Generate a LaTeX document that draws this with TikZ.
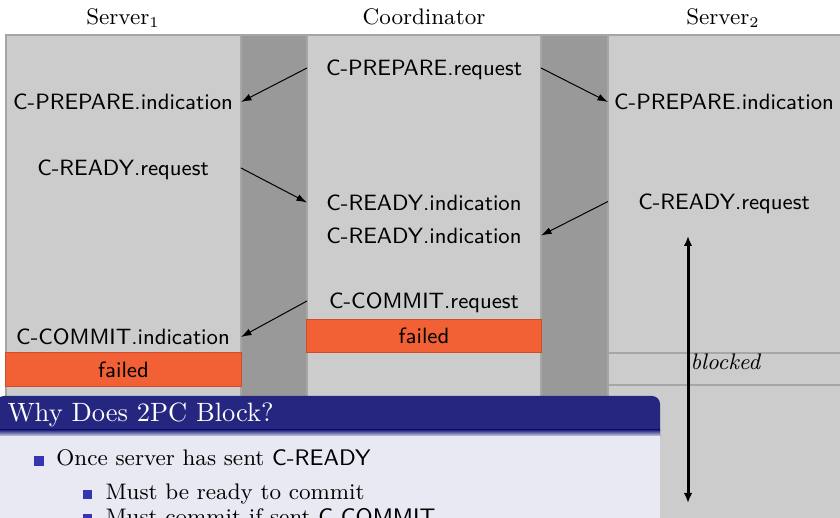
\documentclass[tikz,border=0pt]{standalone}
\usetikzlibrary{arrows.meta}
\definecolor{lane}{HTML}{CCCCCC}
\definecolor{lanegap}{HTML}{999999}
\definecolor{laneedge}{HTML}{A6A6A6}
\definecolor{failfill}{HTML}{F26035}
\definecolor{failedge}{HTML}{CF4E27}
\definecolor{blocktitle}{HTML}{25267F}
\definecolor{blockbody}{HTML}{E9E9F3}
\definecolor{itembullet}{HTML}{3535B0}

\begin{document}
\begin{tikzpicture}[x=0.4pt,y=-0.4pt,
  msgtext/.style={font=\sffamily\fontsize{8.85}{11}\selectfont, inner sep=0pt,
    text height=6.2pt, text depth=0pt},
  header/.style={font=\fontsize{9}{11}\selectfont, inner sep=0pt, anchor=base},
  failbar/.style={fill=failfill, draw=failedge, line width=0.4pt,
    minimum width=94pt, minimum height=13.4pt, inner sep=0pt,
    text height=6.2pt, text depth=0pt, font=\sffamily\fontsize{8.85}{11}\selectfont},
  lanebox/.style={fill=lane, draw=laneedge, line width=0.6pt},
  gapbox/.style={fill=lanegap, draw=laneedge, line width=0.6pt},
  msg/.style={-{Latex[length=4.2pt,width=2.8pt]}, line width=0.4pt},
  waitarrow/.style={{Latex[length=4pt,width=3.4pt]}-{Latex[length=4pt,width=3.4pt]}, line width=1.2pt},
  itemtext/.style={anchor=base west, inner sep=0pt, font=\fontsize{9}{11}\selectfont},
  bulletsq/.style={fill=itembullet, inner sep=0pt, minimum size=#1},
  bulletsq/.default=4pt
]
\useasboundingbox (0,0) rectangle (840,518);
\clip (0,0) rectangle (840,518);
\fill[white] (0,0) rectangle (840,518);

% lanes and the gaps between them
\path[lanebox] (6,35) rectangle (241,560);
\path[gapbox] (241,35) rectangle (307,560);
\path[lanebox] (307,35) rectangle (541,560);
\path[gapbox] (541,35) rectangle (608,560);
\path[lanebox] (608,35) rectangle (860,560);

\coordinate (s1E) at (241,0);
\coordinate (coW) at (307,0);
\coordinate (coE) at (541,0);
\coordinate (s2W) at (608,0);

% lane headers
\node[header] (h1) at (123,25) {Server$_1$};
\node[header] (h2) at (424,25) {Coordinator};
\node[header] (h3) at (723,25) {Server$_2$};

% Server 1
\node[msgtext] (s1pi) at (123,102) {C-PREPARE.indication};
\node[msgtext] (s1rr) at (123,168) {C-READY.request};
\node[msgtext] (s1ci) at (123,337) {C-COMMIT.indication};
\node[failbar] (s1f) at (123.5,369.3) {failed};

% Coordinator
\node[msgtext] (copr) at (424,68) {C-PREPARE.request};
\node[msgtext] (cori1) at (424,202.5) {C-READY.indication};
\node[msgtext] (cori2) at (424,235.5) {C-READY.indication};
\node[msgtext] (cocr) at (424,301) {C-COMMIT.request};
\node[failbar, minimum height=13.5pt] (cof) at (424,335.9) {failed};

% Server 2
\node[msgtext] (s2pi) at (724,102) {C-PREPARE.indication};
\node[msgtext] (s2rr) at (724,201.5) {C-READY.request};

% messages
\draw[msg] (copr -| coW) -- (s1pi -| s1E);
\draw[msg] (copr -| coE) -- (s2pi -| s2W);
\draw[msg] (s1rr -| s1E) -- (cori1 -| coW);
\draw[msg] (s2rr -| s2W) -- (cori2 -| coE);
\draw[msg] (cocr -| coW) -- (s1ci -| s1E);

% blocked interval of server 2
\coordinate (bandL1) at (608,353);
\coordinate (bandR1) at (860,353);
\coordinate (bandL2) at (608,385);
\coordinate (bandR2) at (860,385);
\draw[laneedge, line width=0.6pt] (bandL1) -- (bandR1);
\draw[laneedge, line width=0.6pt] (bandL2) -- (bandR2);
\node[anchor=base west, inner sep=0pt, font=\itshape\fontsize{9}{11}\selectfont] (blk) at (690,370) {blocked};
\coordinate (waitTop) at (688,236);
\coordinate (waitBot) at (688,503);
\draw[waitarrow] (waitTop) -- (waitBot);

% block overlay
\fill[blocktitle, rounded corners=3.2pt] (-4,396) rectangle (660,445);
\shade[top color=blocktitle, bottom color=blockbody] (-4,430) rectangle (660,437);
\fill[blockbody] (-4,436) rectangle (660,560);
\node[anchor=base west, inner sep=0pt, text=white, font=\fontsize{10.6}{13}\selectfont] (ttl) at (7,422) {Why Does 2PC Block?};

\node[bulletsq] (b1) at (39,461.5) {};
\node[itemtext] (it1) at (56,466) {Once server has sent \textsf{C-READY}};
\node[bulletsq=3.6pt] (b2) at (87.5,494.5) {};
\node[itemtext] (it2) at (105,500) {Must be ready to commit};
\node[bulletsq=3.6pt] (b3) at (87.5,518.5) {};
\node[itemtext] (it3) at (105,525) {Must commit if sent \textsf{C-COMMIT}};
\end{tikzpicture}
\end{document}
